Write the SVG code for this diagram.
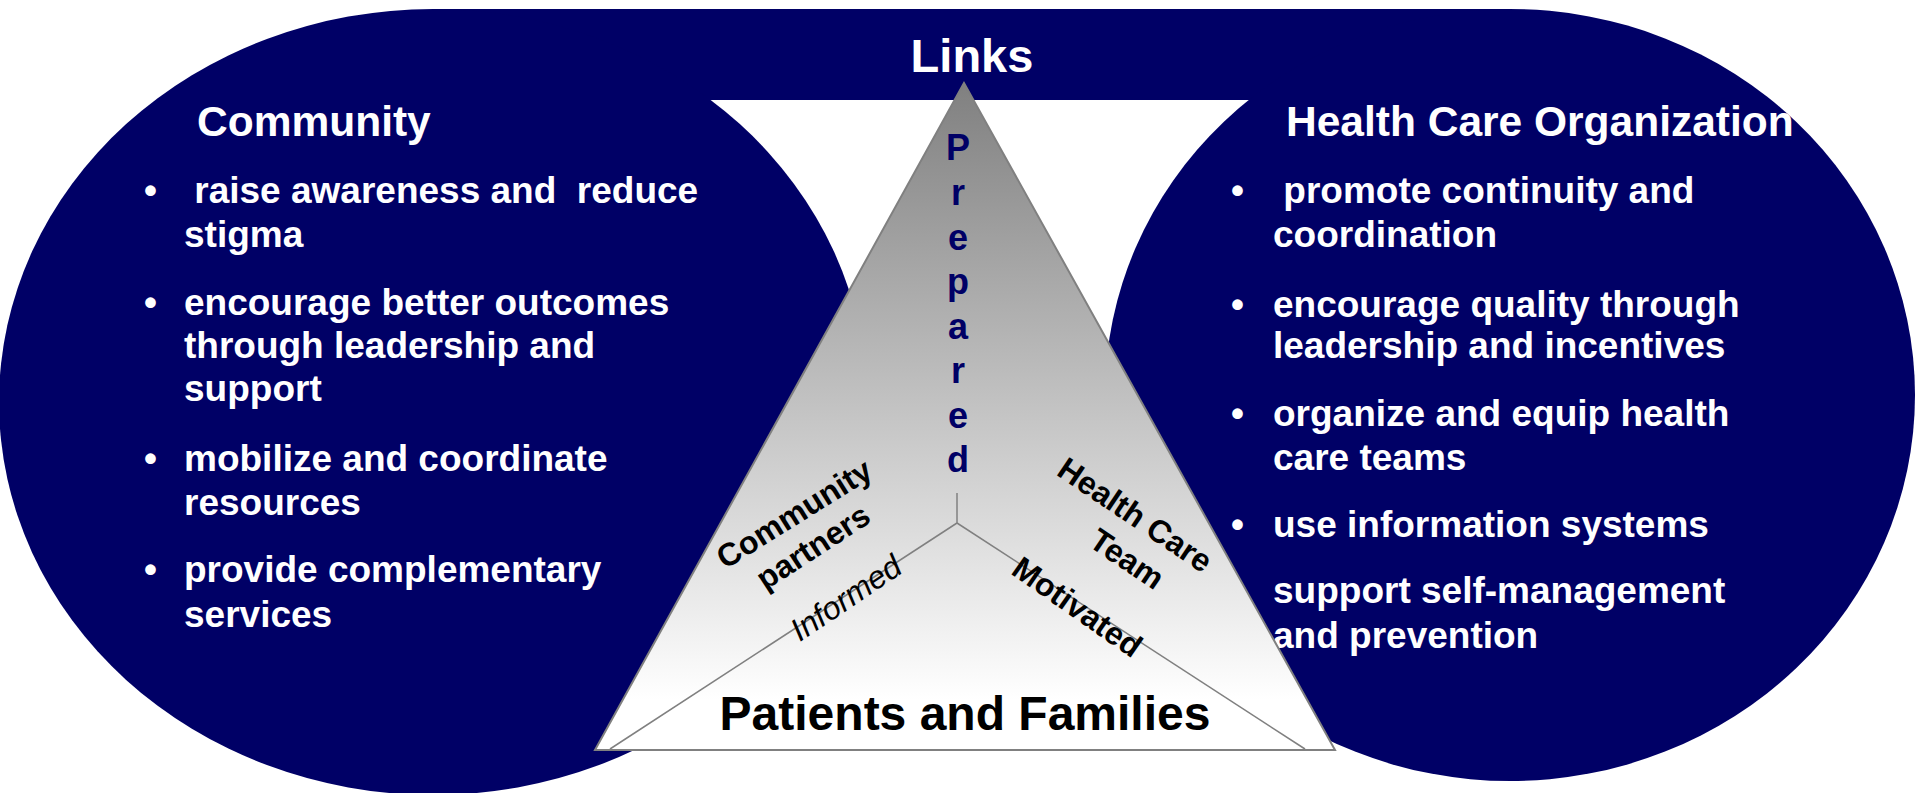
<svg xmlns="http://www.w3.org/2000/svg" width="1915" height="793" viewBox="0 0 1915 793">
<style>
  text { font-family: "Liberation Sans", Arial, sans-serif; white-space: pre; }
  .navy { fill: #000066; }
  .head { fill: #ffffff; font-weight: bold; font-size: 42.5px; }
  .item { fill: #ffffff; font-weight: bold; font-size: 37px; }
  .links { fill: #ffffff; font-weight: bold; font-size: 47px; text-anchor: middle; }
  .prep { fill: #000066; font-weight: bold; font-size: 36px; text-anchor: middle; }
  .pf { fill: #000000; font-weight: bold; font-size: 48px; text-anchor: middle; }
  .rot { fill: #000000; font-weight: bold; font-size: 32px; text-anchor: middle; }
  .rotI { fill: #000000; font-style: italic; font-size: 32px; text-anchor: middle; }
  .conn { stroke: #808080; stroke-width: 1.5; fill: none; }
</style>
<defs>
  <linearGradient id="triGrad" gradientUnits="userSpaceOnUse" x1="0" y1="83" x2="0" y2="750">
    <stop offset="0" stop-color="#808080"/>
    <stop offset="0.925" stop-color="#ffffff"/>
    <stop offset="1" stop-color="#ffffff"/>
  </linearGradient>
</defs>
<rect x="0" y="0" width="1915" height="793" fill="#ffffff"/>

<g id="links">
  <rect class="navy" x="434" y="9" width="1076" height="91"/>
  <text class="links" x="972" y="72">Links</text>
</g>

<g id="community">
  <ellipse class="navy" cx="433" cy="402" rx="434" ry="393"/>
  <text class="head" x="197" y="136">Community</text>
  <text class="item" x="144" y="203">•</text>
  <text class="item" x="184" y="203"> raise awareness and  reduce</text>
  <text class="item" x="184" y="247">stigma</text>
  <text class="item" x="144" y="315">•</text>
  <text class="item" x="184" y="315">encourage better outcomes</text>
  <text class="item" x="184" y="358">through leadership and</text>
  <text class="item" x="184" y="401">support</text>
  <text class="item" x="144" y="471">•</text>
  <text class="item" x="184" y="471">mobilize and coordinate</text>
  <text class="item" x="184" y="515">resources</text>
  <text class="item" x="144" y="582">•</text>
  <text class="item" x="184" y="582">provide complementary</text>
  <text class="item" x="184" y="627">services</text>
</g>

<g id="health-care-organization">
  <ellipse class="navy" cx="1510" cy="395" rx="405" ry="386"/>
  <text class="head" x="1286" y="136">Health Care Organization</text>
  <text class="item" x="1231" y="203">•</text>
  <text class="item" x="1273" y="203"> promote continuity and</text>
  <text class="item" x="1273" y="247">coordination</text>
  <text class="item" x="1231" y="317">•</text>
  <text class="item" x="1273" y="317">encourage quality through</text>
  <text class="item" x="1273" y="358">leadership and incentives</text>
  <text class="item" x="1231" y="426">•</text>
  <text class="item" x="1273" y="426">organize and equip health</text>
  <text class="item" x="1273" y="470">care teams</text>
  <text class="item" x="1231" y="537">•</text>
  <text class="item" x="1273" y="537">use information systems</text>
  <text class="item" x="1273" y="603">support self-management</text>
  <text class="item" x="1273" y="648">and prevention</text>
</g>

<g id="patients-and-families">
  <polygon points="964,83 595,750 1335,750" fill="url(#triGrad)" stroke="#808080" stroke-width="2"/>
  <text class="prep" x="958" y="160">P</text>
  <text class="prep" x="958" y="205">r</text>
  <text class="prep" x="958" y="250">e</text>
  <text class="prep" x="958" y="294">p</text>
  <text class="prep" x="958" y="339">a</text>
  <text class="prep" x="958" y="383">r</text>
  <text class="prep" x="958" y="428">e</text>
  <text class="prep" x="958" y="472">d</text>
  <text class="pf" x="965" y="730">Patients and Families</text>
</g>

<g id="connectors">
  <line class="conn" x1="957" y1="493" x2="957" y2="523"/>
  <line class="conn" x1="957" y1="523" x2="610" y2="749"/>
  <line class="conn" x1="957" y1="523" x2="1305" y2="749"/>
</g>

<g id="community-partners">
  <text class="rot" transform="translate(800,523) rotate(-32)">Community</text>
  <text class="rot" transform="translate(819,556) rotate(-33)">partners</text>
  <text class="rotI" transform="translate(852,607) rotate(-34)">Informed</text>
</g>

<g id="health-care-team">
  <text class="rot" transform="translate(1129,524) rotate(34)">Health Care</text>
  <text class="rot" transform="translate(1121,568) rotate(34)">Team</text>
  <text class="rot" transform="translate(1071,616) rotate(35)">Motivated</text>
</g>
</svg>
